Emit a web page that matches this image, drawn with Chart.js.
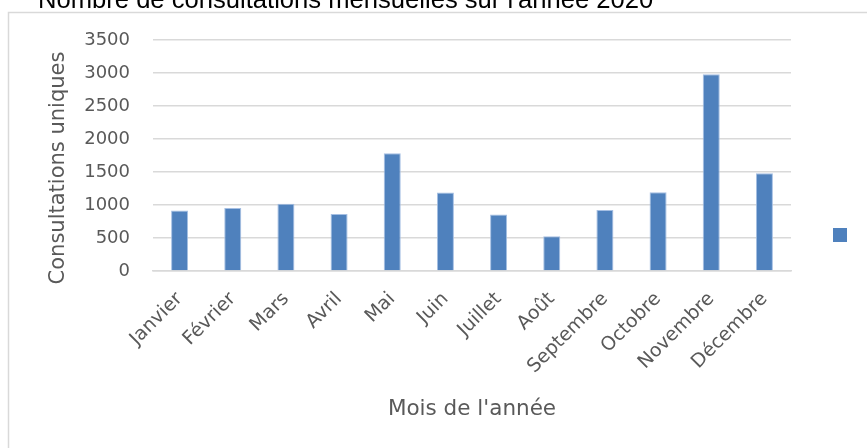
<!DOCTYPE html>
<html><head><meta charset="utf-8">
<script src="https://cdn.jsdelivr.net/npm/chart.js@4/dist/chart.umd.min.js"></script>
<style>html,body{margin:0;padding:0;background:#fff;overflow:hidden}#wrap{width:867px;height:448px;position:relative}</style>
</head><body><div id="wrap"><canvas id="c"></canvas></div>
<script>
const categories = ['Janvier','Février','Mars','Avril','Mai','Juin','Juillet','Août','Septembre','Octobre','Novembre','Décembre'];
const consultations = [915, 955, 1020, 865, 1785, 1190, 855, 525, 925, 1195, 2980, 1480];
const yTickValues = [0, 500, 1000, 1500, 2000, 2500, 3000, 3500];
const chartTitle = "Nombre de consultations mensuelles sur l'année 2020";
const xAxisTitle = "Mois de l'année";
const yAxisTitle = "Consultations uniques";

const BAR = '#4f81bd';
const GREY = '#595959';
const GRID = '#d9d9d9';
const FONT = "'DejaVu Sans', sans-serif";

const decor = {
  id: 'decor',
  beforeDraw(chart) {
    const ctx = chart.ctx;
    ctx.save();
    ctx.strokeStyle = GRID;
    ctx.lineWidth = 1.5;
    ctx.strokeRect(8.5, 12.5, 1000, 1000);
    ctx.restore();
  },
  afterDraw(chart) {
    const ctx = chart.ctx;
    ctx.save();
    ctx.fillStyle = '#000';
    ctx.font = "25.6px 'Liberation Sans', Arial, sans-serif";
    ctx.textBaseline = 'alphabetic';
    ctx.textAlign = 'left';
    ctx.fillText(chartTitle, 38, 8);
    ctx.fillStyle = GREY;
    ctx.font = "21px " + FONT;
    ctx.translate(59, 168);
    ctx.rotate(-Math.PI / 2);
    ctx.textAlign = 'center';
    ctx.textBaseline = 'middle';
    ctx.fillText(yAxisTitle, 0, 0);
    ctx.restore();
    ctx.save();
    ctx.fillStyle = BAR;
    ctx.fillRect(833, 228, 14, 14);
    ctx.restore();
  }
};

new Chart(document.getElementById('c'), {
  type: 'bar',
  data: {
    labels: categories,
    datasets: [{
      label: '',
      data: consultations,
      backgroundColor: BAR,
      borderColor: 'rgba(160,188,225,0.95)',
      borderWidth: 1,
      categoryPercentage: 1,
      barPercentage: 0.32
    }]
  },
  options: {
    responsive: true,
    maintainAspectRatio: false,
    animation: false,
    events: [],
    layout: { padding: { top: 40, right: 76, bottom: 26, left: 84 } },
    plugins: { legend: { display: false }, tooltip: { enabled: false }, title: { display: false } },
    scales: {
      x: {
        afterFit: (scale) => { scale.paddingLeft = 0; scale.paddingRight = 0; scale.height = 151; },
        grid: { display: false, drawTicks: false },
        border: { display: true, color: GRID, width: 1.5 },
        ticks: { autoSkip: false, maxRotation: 45, minRotation: 45, padding: 17, color: GREY, font: { family: FONT, size: 19 } },
        title: { display: true, text: xAxisTitle, color: GREY, font: { family: FONT, size: 21.5 }, padding: { top: 5, bottom: 0 } }
      },
      y: {
        min: 0, max: 3500,
        afterBuildTicks: (scale) => { scale.ticks = yTickValues.map(v => ({ value: v })); },
        afterFit: (scale) => { scale.width = 69; },
        grid: { color: GRID, lineWidth: 1.5, drawTicks: false },
        border: { display: false },
        ticks: { padding: 23, color: GREY, font: { family: FONT, size: 18 }, callback: (v) => String(v) }
      }
    }
  },
  plugins: [decor]
});
</script></body></html>
